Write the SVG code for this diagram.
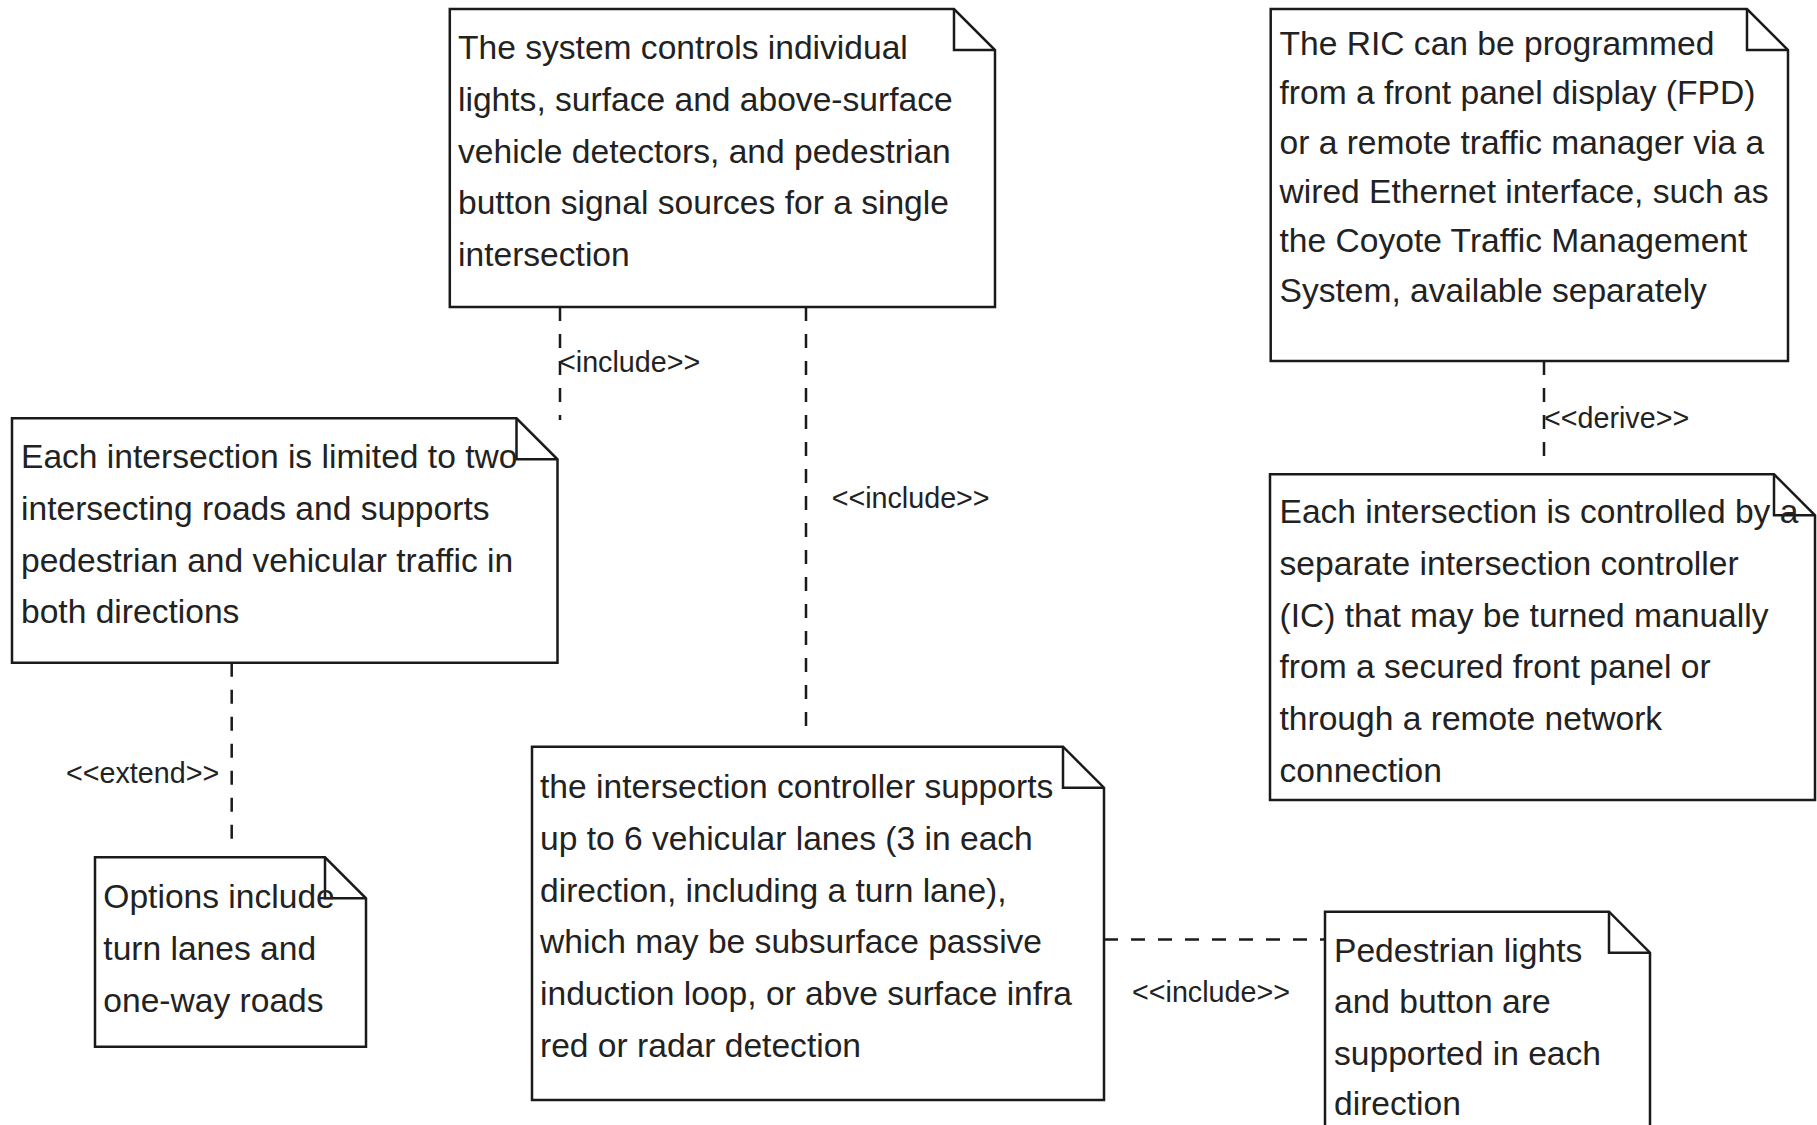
<svg xmlns="http://www.w3.org/2000/svg" width="1817" height="1125" viewBox="0 0 1817 1125">
<style>
.note{fill:#fff;stroke:#1a1a1a;stroke-width:2.5;stroke-linejoin:miter}
.fold{fill:none;stroke:#1a1a1a;stroke-width:2.5}
.t{font-family:"Liberation Sans",Arial,sans-serif;font-size:33.6px;fill:#222}
.conn{fill:none;stroke:#1a1a1a;stroke-width:2.5;stroke-dasharray:14 13}
.lbl{font-family:"Liberation Sans",Arial,sans-serif;font-size:28.7px;fill:#222}
</style>
<rect width="1817" height="1125" fill="#fff"/>
<g id="connectors">
<line class="conn" x1="560" y1="307" x2="560" y2="420"/>
<text class="lbl" x="559" y="371.7">&lt;include&gt;&gt;</text>
<line class="conn" x1="806" y1="307" x2="806" y2="732"/>
<text class="lbl" x="831.7" y="508.3">&lt;&lt;include&gt;&gt;</text>
<line class="conn" x1="1544" y1="361" x2="1544" y2="458"/>
<text class="lbl" x="1544" y="428.3">&lt;&lt;derive&gt;&gt;</text>
<line class="conn" x1="231.7" y1="662.7" x2="231.7" y2="842"/>
<text class="lbl" x="66" y="783.3">&lt;&lt;extend&gt;&gt;</text>
<line class="conn" x1="1104" y1="939.5" x2="1325" y2="939.5"/>
<text class="lbl" x="1132" y="1001.7">&lt;&lt;include&gt;&gt;</text>
</g>
<g id="note-system">
<path class="note" d="M449.8,9 H954 L995,50 V307 H449.8 Z"/>
<path class="fold" d="M954,9 V50 H995"/>
<text class="t" x="458" y="59.3">The system controls individual</text>
<text class="t" x="458" y="111">lights, surface and above-surface</text>
<text class="t" x="458" y="162.7">vehicle detectors, and pedestrian</text>
<text class="t" x="458" y="214.4">button signal sources for a single</text>
<text class="t" x="458" y="266.1">intersection</text>
</g>
<g id="note-ric">
<path class="note" d="M1270.7,9 H1747 L1788,50 V361 H1270.7 Z"/>
<path class="fold" d="M1747,9 V50 H1788"/>
<text class="t" x="1279.5" y="55">The RIC can be programmed</text>
<text class="t" x="1279.5" y="104.3">from a front panel display (FPD)</text>
<text class="t" x="1279.5" y="153.6">or a remote traffic manager via a</text>
<text class="t" x="1279.5" y="202.9">wired Ethernet interface, such as</text>
<text class="t" x="1279.5" y="252.2">the Coyote Traffic Management</text>
<text class="t" x="1279.5" y="301.5">System, available separately</text>
</g>
<g id="note-limited">
<path class="note" d="M12,418.3 H516.5 L557.5,459.3 V662.7 H12 Z"/>
<path class="fold" d="M516.5,418.3 V459.3 H557.5"/>
<text class="t" x="21" y="468.3">Each intersection is limited to two</text>
<text class="t" x="21" y="520">intersecting roads and supports</text>
<text class="t" x="21" y="571.7">pedestrian and vehicular traffic in</text>
<text class="t" x="21" y="623.4">both directions</text>
</g>
<g id="note-ic">
<path class="note" d="M1270,474.3 H1774 L1815,515.3 V800 H1270 Z"/>
<path class="fold" d="M1774,474.3 V515.3 H1815"/>
<text class="t" x="1279.5" y="523.3">Each intersection is controlled by a</text>
<text class="t" x="1279.5" y="575">separate intersection controller</text>
<text class="t" x="1279.5" y="626.7">(IC) that may be turned manually</text>
<text class="t" x="1279.5" y="678.4">from a secured front panel or</text>
<text class="t" x="1279.5" y="730.1">through a remote network</text>
<text class="t" x="1279.5" y="781.8">connection</text>
</g>
<g id="note-lanes">
<path class="note" d="M532,746.7 H1063 L1104,787.7 V1100 H532 Z"/>
<path class="fold" d="M1063,746.7 V787.7 H1104"/>
<text class="t" x="540" y="798.3">the intersection controller supports</text>
<text class="t" x="540" y="850">up to 6 vehicular lanes (3 in each</text>
<text class="t" x="540" y="901.7">direction, including a turn lane),</text>
<text class="t" x="540" y="953.4">which may be subsurface passive</text>
<text class="t" x="540" y="1005.1">induction loop, or abve surface infra</text>
<text class="t" x="540" y="1056.8">red or radar detection</text>
</g>
<g id="note-ped">
<path class="note" d="M1325,911.7 H1609 L1650,952.7 V1140 H1325 Z"/>
<path class="fold" d="M1609,911.7 V952.7 H1650"/>
<text class="t" x="1334" y="961.7">Pedestrian lights</text>
<text class="t" x="1334" y="1013.4">and button are</text>
<text class="t" x="1334" y="1065.1">supported in each</text>
<text class="t" x="1334" y="1115">direction</text>
</g>
<g id="note-options">
<path class="note" d="M95,857.3 H325 L366,898.3 V1046.7 H95 Z"/>
<path class="fold" d="M325,857.3 V898.3 H366"/>
<text class="t" x="103.3" y="908.3">Options include</text>
<text class="t" x="103.3" y="960">turn lanes and</text>
<text class="t" x="103.3" y="1011.7">one-way roads</text>
</g>
</svg>
